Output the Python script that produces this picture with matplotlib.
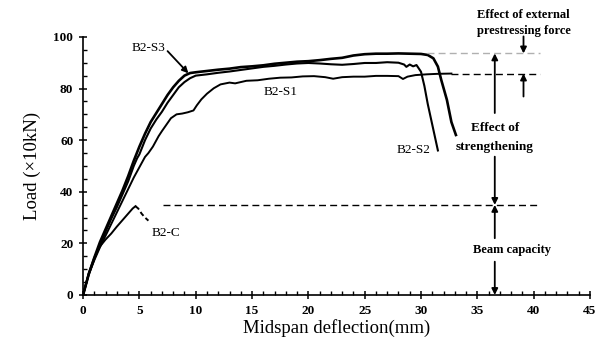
import matplotlib
matplotlib.use("Agg")
import matplotlib.pyplot as plt
from matplotlib.ticker import MultipleLocator

# ---- data ----
s3_x = [0, 0.5, 1.0, 1.5, 2.0, 2.5, 3.0, 3.5, 4.0, 4.5, 5.0, 5.5, 6.0, 6.5, 7.0, 7.5, 8.0, 8.5, 9.0, 9.5,
        10, 11, 12, 13, 14, 15, 16, 17, 18, 19, 20, 21, 22, 23, 24, 25, 26, 27, 28, 29, 30, 30.6, 31.1,
        31.5, 31.8, 32.3, 32.7, 33.1]
s3_y = [0, 8, 14.5, 20.5, 25.5, 30.5, 35.5, 40.5, 46, 52, 57.5, 62.5, 67, 70.5, 74, 77.5, 80.5, 83, 85, 86,
        86.3, 86.8, 87.3, 87.7, 88.3, 88.6, 89, 89.6, 90, 90.4, 90.6, 91, 91.5, 91.9, 92.8, 93.3, 93.5, 93.5,
        93.6, 93.5, 93.4, 93.0, 91.7, 88.5, 83.3, 75.6, 67, 62]

s2_x = [0, 0.5, 1.0, 1.5, 2.0, 2.5, 3.0, 3.5, 4.0, 4.5, 4.8, 5.0, 5.5, 6.0, 6.5, 7.0, 7.5, 8.0, 8.5, 9.0, 9.5,
        10, 11, 12, 13, 14, 15, 16, 17, 18, 19, 20, 21, 22, 23, 24, 25, 26, 27, 28, 28.5, 28.7, 29.0, 29.3,
        29.6, 30.0, 30.3, 30.6, 31.0, 31.5]
s2_y = [0, 8, 14, 19.5, 24.5, 29.5, 34, 39, 44, 50, 53, 54.5, 60, 64.5, 68, 71, 74.5, 77.5, 80.5, 82.5, 84,
        85, 85.5, 86.1, 86.6, 87.2, 87.8, 88.4, 88.8, 89.3, 89.7, 89.9, 89.7, 89.4, 89.2, 89.5, 89.9, 89.9,
        90.2, 90.0, 89.3, 88.4, 89.3, 88.6, 89.1, 86.5, 81, 74, 66, 56]

s1_x = [0, 0.5, 1.0, 1.5, 2.0, 2.5, 3.0, 3.5, 4.0, 4.5, 5.0, 5.5, 5.8, 6.2, 6.7, 7.0, 7.4, 7.8, 8.3, 8.8,
        9.3, 9.8, 10.1, 10.5, 11.0, 11.6, 12.2, 13.0, 13.5, 14.5, 15.5, 16.5, 17.5, 18.5, 19.5, 20.5, 21.5,
        22.2, 23, 24, 25, 26, 27, 28, 28.4, 28.8, 29.5, 30.5, 31.5, 32.7]
s1_y = [0, 8, 13.5, 18.5, 23, 27.5, 32, 36.5, 41, 45.5, 49.5, 53.5, 55, 57.5, 61.5, 63.5, 66, 68.5, 70, 70.3,
        70.8, 71.5, 73.5, 75.8, 78, 80.1, 81.6, 82.3, 82.0, 83.0, 83.2, 83.8, 84.2, 84.3, 84.7, 84.8, 84.4,
        83.8, 84.4, 84.6, 84.6, 84.9, 84.9, 84.8, 83.7, 84.6, 85.2, 85.5, 85.7, 85.8]

c_x = [0, 0.5, 1.0, 1.5, 2.0, 2.5, 3.0, 3.5, 4.0, 4.4, 4.65]
c_y = [0, 8.5, 14.5, 18.8, 21.5, 23.8, 26.5, 29, 31.5, 33.5, 34.4]
c_drop_x = [4.65, 4.9, 5.2, 5.5, 5.8]
c_drop_y = [34.4, 33.5, 31.5, 30, 28.8]

beam_capacity = 34.9
s1_level = 85.8
s3_level = 93.6

curve_labels = ["B2-S3", "B2-S1", "B2-S2", "B2-C"]
x_ticks = [0, 5, 10, 15, 20, 25, 30, 35, 40, 45]
y_ticks = [0, 20, 40, 60, 80, 100]

# ---- figure ----
plt.rcParams['font.family'] = ['Liberation Serif', 'DejaVu Serif']
fig = plt.figure(figsize=(6.02, 3.45), dpi=100)
ax = fig.add_axes([0.138, 0.145, 0.842, 0.748])

ax.plot(s1_x, s1_y, color='black', lw=1.4)
ax.plot(s2_x, s2_y, color='black', lw=1.5)
ax.plot(s3_x, s3_y, color='black', lw=1.9)
ax.plot(c_x, c_y, color='black', lw=1.4)
ax.plot(c_drop_x, c_drop_y, color='black', lw=1.4, ls=(0, (2.5, 1.5)))

# reference lines
ax.plot([7.1, 40.6], [beam_capacity, beam_capacity], color='black', lw=1.0, ls=(0, (5, 3)))
ax.plot([32.7, 40.6], [s1_level, s1_level], color='black', lw=1.0, ls=(0, (5, 3)))
ax.plot([30.5, 40.6], [s3_level, s3_level], color='#b0b0b0', lw=1.0, ls=(0, (5, 3)))

ax.set_xlim(0, 45)
ax.set_ylim(0, 100)
ax.spines['top'].set_visible(False)
ax.spines['right'].set_visible(False)
ax.spines['left'].set_linewidth(1.2)
ax.spines['bottom'].set_linewidth(1.2)
ax.set_xticks(x_ticks)
ax.set_yticks(y_ticks)
ax.xaxis.set_minor_locator(MultipleLocator(1))
ax.yaxis.set_minor_locator(MultipleLocator(5))
ax.tick_params(which='major', direction='inout', length=6, width=1.1, labelsize=9.5, pad=4)
ax.tick_params(which='minor', direction='in', length=3, width=1.0)
for lab in ax.get_xticklabels() + ax.get_yticklabels():
    lab.set_fontweight('bold')

ax.set_xlabel("Midspan deflection(mm)", fontsize=13.5, labelpad=2)
ax.set_ylabel("Load (×10kN)", fontsize=13.5, labelpad=9)

arrow_kw = dict(arrowstyle='-|>', color='black', lw=1.3, mutation_scale=9,
                shrinkA=0, shrinkB=0)

# curve labels
ax.text(5.8, 95.6, curve_labels[0], fontsize=9.5, ha='center', va='center')
ax.annotate("", xy=(9.35, 85.9), xytext=(7.5, 94.5), arrowprops=arrow_kw)
ax.text(17.5, 78.8, curve_labels[1], fontsize=9.5, ha='center', va='center')
ax.text(29.3, 56.2, curve_labels[2], fontsize=9.5, ha='center', va='center')
ax.text(7.4, 23.9, curve_labels[3], fontsize=9.5, ha='center', va='center')

# effect annotations
xa = 36.55
ax.annotate("", xy=(xa, s3_level), xytext=(xa, 70.5), arrowprops=arrow_kw)
ax.text(xa, 64.7, "Effect of", fontsize=9.5, fontweight='bold', ha='center', va='center')
ax.text(xa, 57.4, "strengthening", fontsize=9.5, fontweight='bold', ha='center', va='center')
ax.annotate("", xy=(xa, beam_capacity), xytext=(xa, 53.6), arrowprops=arrow_kw)
ax.annotate("", xy=(xa, beam_capacity), xytext=(xa, 22.0), arrowprops=arrow_kw)
ax.text(38.1, 17.4, "Beam capacity", fontsize=9, fontweight='bold', ha='center', va='center')
ax.annotate("", xy=(xa, 0), xytext=(xa, 12.9), arrowprops=arrow_kw)

xb = 39.1
ax.annotate("", xy=(xb, s3_level), xytext=(xb, 100.2), arrowprops=arrow_kw, annotation_clip=False)
ax.annotate("", xy=(xb, s1_level), xytext=(xb, 76.9), arrowprops=arrow_kw)
ax.text(xb, 108.6, "Effect of external", fontsize=9, fontweight='bold', ha='center', va='center', clip_on=False)
ax.text(xb, 102.3, "prestressing force", fontsize=9, fontweight='bold', ha='center', va='center', clip_on=False)

fig.savefig("out.png", dpi=100)
